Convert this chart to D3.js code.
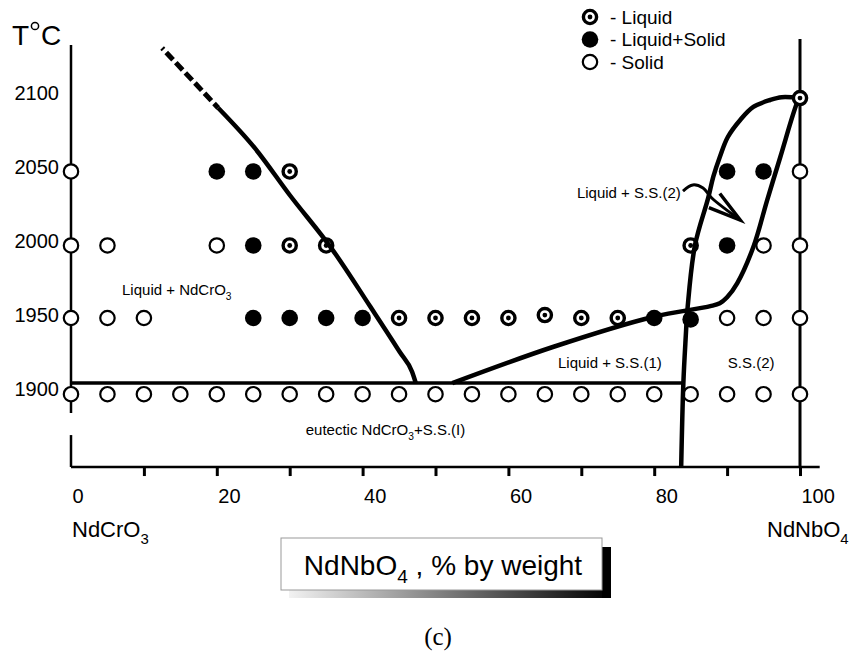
<!DOCTYPE html>
<html>
<head>
<meta charset="utf-8">
<script src="https://cdn.jsdelivr.net/npm/d3@7"></script>
<style>
  body { margin:0; background:#fff; }
  svg { display:block; font-family:"Liberation Sans", Arial, sans-serif; }
</style>
</head>
<body>
<svg id="chart" width="852" height="652"></svg>
<script>
// x = NdNbO4, % by weight ; T = temperature, C

// experimental points, by phase
const liquidPts = [[30,2049],[30,1999],[35,1999],[85,1999],[45,1950],[50,1950],[55,1950],
  [60,1950],[65,1952],[70,1950],[75,1950]];
const liquidSolidPts = [[20,2049],[25,2049],[90,2049],[95,2049],[25,1999],[90,1999],
  [25,1950],[30,1950],[35,1950],[40,1950],[80,1950],[85,1949]];
const solidPts = [[0,2049],[100,2049],[0,1999],[5,1999],[20,1999],[95,1999],[100,1999],
  [0,1950],[5,1950],[10,1950],[90,1950],[95,1950],[100,1950],
  [0,1898.5],[5,1898.5],[10,1898.5],[15,1898.5],[20,1898.5],[25,1898.5],[30,1898.5],
  [35,1898.5],[40,1898.5],[45,1898.5],[50,1898.5],[55,1898.5],[60,1898.5],[65,1898.5],
  [70,1898.5],[75,1898.5],[80,1898.5],[85,1898.5],[90,1898.5],[95,1898.5],[100,1898.5]];
const meltPt = [100,2098.6];

// phase boundaries
const liquidusDashed = [[12.5,2132.4],[20.2,2091.9]];
const liquidusLeft = [[20.2,2091.9],[25.2,2064.9],[30.0,2033.1],[35.9,1995.9],[41.0,1958.1],
  [45.1,1927.0],[46.8,1913.5],[47.3,1906]];
const eutectic = [[0,1906],[84,1906]];
const solidusSS2 = [[100,2098.6],[97.5,2099.2],[95.9,2097.3],[93.6,2092.6],[91.8,2083.8],
  [90.1,2072.3],[89.0,2058.8],[88.1,2045.3],[87.4,2031],[85.6,1999.3],[84.6,1958],
  [84.3,1935],[84.0,1906],[83.7,1849.3]];
const liquidusRight = [[100,2098.6],[99.6,2095.3],[97.3,2058.8],[95.5,2029.7],[93.6,1998],
  [91.4,1973.6],[90.0,1964],[89.0,1960],[87.7,1958],[79.8,1950.7],[66.1,1930.4],[52.3,1906]];

// ticks
const yTicks = [1900,1950,2000,2050,2100];
const xMinorTicks = [10,20,30,40,50,60,70,80,90,100];
const xLabels = [0,20,40,60,80,100];

// region labels [x, T, parts]
const regionLabels = [
  [7.0, 1968.9, [["Liquid + NdCrO"],["3",1]]],
  [32.2, 1874.3, [["eutectic NdCrO"],["3",1],["+S.S.(I)"]]],
  [66.8, 1919.6, [["Liquid + S.S.(1)"]]],
  [90.1, 1919.6, [["S.S.(2)"]]],
  [69.4, 2034.5, [["Liquid + S.S.(2)"]]]
];
const arrowShaft = [[83.95,2035.8],[85.3,2039.9],[86.7,2037.8],[87.9,2031.1],[91.8,2016.2]];
const arrowBarbs = [[89.0,2034.1],[91.8,2016.2],[87.5,2024.5]];

const legendItems = [["liquid","- Liquid"],["mixed","- Liquid+Solid"],["solid","- Solid"]];

const svg = d3.select("#chart");
const x = d3.scaleLinear().domain([0,100]).range([71,800]);
const y = d3.scaleLinear().domain([1900,2100]).range([392,96]);
const line = d3.line().x(d => x(d[0])).y(d => y(d[1]));
const smooth = d3.line().x(d => x(d[0])).y(d => y(d[1])).curve(d3.curveCatmullRom.alpha(0.5));
const mono = d3.line().x(d => x(d[0])).y(d => y(d[1])).curve(d3.curveMonotoneX);

function richText(t, parts, size){
  parts.forEach((p, i) => {
    const s = t.append("tspan").text(p[0]);
    if (p[1]) s.attr("font-size", size*0.68).attr("dy", size*0.3);
    else if (i > 0 && parts[i-1][1]) s.attr("dy", -size*0.3);
  });
}

function symbol(g, kind, cx, cy){
  if (kind === "solid"){
    g.append("circle").attr("cx",cx).attr("cy",cy).attr("r",7.2)
      .attr("fill","#fff").attr("stroke","#000").attr("stroke-width",2.2);
  } else if (kind === "mixed"){
    g.append("circle").attr("cx",cx).attr("cy",cy).attr("r",8.3).attr("fill","#000");
  } else {
    g.append("circle").attr("cx",cx).attr("cy",cy).attr("r",6.6)
      .attr("fill","#fff").attr("stroke","#000").attr("stroke-width",3.4);
    g.append("circle").attr("cx",cx).attr("cy",cy).attr("r",2.4).attr("fill","#000");
  }
}

// axes frame
const frame = svg.append("g").attr("stroke","#000").attr("fill","none");
frame.append("path").attr("stroke-width",2.5).attr("d", line([[0,2134.5],[0,1885.8]]));
frame.append("path").attr("stroke-width",2.5).attr("d", line([[0,1870.9],[0,1849.3]]));
frame.append("path").attr("stroke-width",2.5).attr("d", line([[0,1849.3],[102.7,1849.3]]));
frame.append("path").attr("stroke-width",3).attr("d", line([[100,2138.5],[100,1849.3]]));

const xTickAxis = svg.append("g")
  .attr("transform", `translate(0,${y(1849.3)})`)
  .call(d3.axisBottom(x).tickValues(xMinorTicks).tickSize(9).tickFormat(""));
xTickAxis.select(".domain").remove();
xTickAxis.selectAll("line").attr("stroke-width",3);

const xLabelAxis = svg.append("g")
  .attr("transform", `translate(0,${y(1849.3)})`)
  .call(d3.axisBottom(x).tickValues(xLabels).tickSize(0).tickPadding(22));
xLabelAxis.select(".domain").remove();
xLabelAxis.selectAll("text").attr("font-size",20).attr("font-family","Liberation Sans, Arial, sans-serif")
  .attr("text-anchor","start").attr("dx",1).attr("fill","#000");

const yAxis = svg.append("g")
  .attr("transform", `translate(${x(0)},0)`)
  .call(d3.axisLeft(y).tickValues(yTicks).tickSize(0).tickPadding(12).tickFormat(d3.format("d")));
yAxis.select(".domain").remove();
yAxis.selectAll("text").attr("font-size",20).attr("font-family","Liberation Sans, Arial, sans-serif")
  .attr("fill","#000").attr("transform","translate(0,-2.5)");

// T oC
const tl = svg.append("g").attr("fill","#000");
tl.append("text").attr("x",12).attr("y",45).attr("font-size",28).text("T");
tl.append("circle").attr("cx",35).attr("cy",26).attr("r",3.6).attr("fill","none")
  .attr("stroke","#000").attr("stroke-width",1.5);
tl.append("text").attr("x",41).attr("y",45).attr("font-size",28).text("C");

// end-member labels
const em = svg.append("g").attr("font-size",22).attr("fill","#000");
richText(em.append("text").attr("x",x(0)+1).attr("y",537), [["NdCrO"],["3",1]], 22);
richText(em.append("text").attr("x",x(100)-33).attr("y",537), [["NdNbO"],["4",1]], 22);

// points
const pts = svg.append("g");
solidPts.forEach(d => symbol(pts, "solid", x(d[0]), y(d[1])));
liquidSolidPts.forEach(d => symbol(pts, "mixed", x(d[0]), y(d[1])));
liquidPts.forEach(d => symbol(pts, "liquid", x(d[0]), y(d[1])));

// boundaries
const curves = svg.append("g").attr("fill","none").attr("stroke","#000")
  .attr("stroke-linecap","butt").attr("stroke-linejoin","round");
curves.append("path").attr("d", line(eutectic)).attr("stroke-width",3.5);
curves.append("path").attr("d", line(liquidusDashed)).attr("stroke-width",5)
  .attr("stroke-dasharray","10,4").attr("stroke-dashoffset",8);
curves.append("path").attr("d", mono(liquidusLeft)).attr("stroke-width",4.5);
curves.append("path").attr("d", smooth(solidusSS2)).attr("stroke-width",4.5);
curves.append("path").attr("d", smooth(liquidusRight)).attr("stroke-width",4.5);
symbol(svg.append("g"), "liquid", x(meltPt[0]), y(meltPt[1]));

// region labels
const rl = svg.append("g").attr("font-size",15).attr("fill","#000");
regionLabels.forEach(([lx, lt, parts]) => {
  richText(rl.append("text").attr("x",x(lx)).attr("y",y(lt)).attr("dy","0.35em"), parts, 15);
});
const arr = svg.append("g").attr("fill","none").attr("stroke","#000").attr("stroke-width",3)
  .attr("stroke-linejoin","miter");
arr.append("path").attr("d", smooth(arrowShaft));
arr.append("path").attr("d", line(arrowBarbs)).attr("stroke-width",3.5);

// legend
const lg = svg.append("g").attr("font-size",19).attr("fill","#000");
legendItems.forEach(([k, label], i) => {
  const ly = 17 + i*22.5;
  symbol(lg, k, 590, ly);
  lg.append("text").attr("x",610).attr("y",ly).attr("dy","0.36em").text(label);
});

// axis title box
const defs = svg.append("defs");
const grad = defs.append("linearGradient").attr("id","shade");
grad.append("stop").attr("offset","0%").attr("stop-color","#f2f2f2");
grad.append("stop").attr("offset","100%").attr("stop-color","#000");
svg.append("rect").attr("x",289).attr("y",590).attr("width",322).attr("height",8).attr("fill","url(#shade)");
svg.append("rect").attr("x",602).attr("y",547).attr("width",9).attr("height",51).attr("fill","#000");
svg.append("rect").attr("x",281).attr("y",538).attr("width",321).attr("height",52)
  .attr("fill","#fff").attr("stroke","#999").attr("stroke-width",1);
richText(svg.append("text").attr("x",443).attr("y",575).attr("text-anchor","middle")
  .attr("font-size",28).attr("fill","#000"), [["NdNbO"],["4",1],[" , % by weight"]], 28);

svg.append("text").attr("x",438).attr("y",645).attr("text-anchor","middle")
  .attr("font-family","Liberation Serif, Times New Roman, serif").attr("font-size",25)
  .attr("fill","#000").text("(c)");
</script>
</body>
</html>
